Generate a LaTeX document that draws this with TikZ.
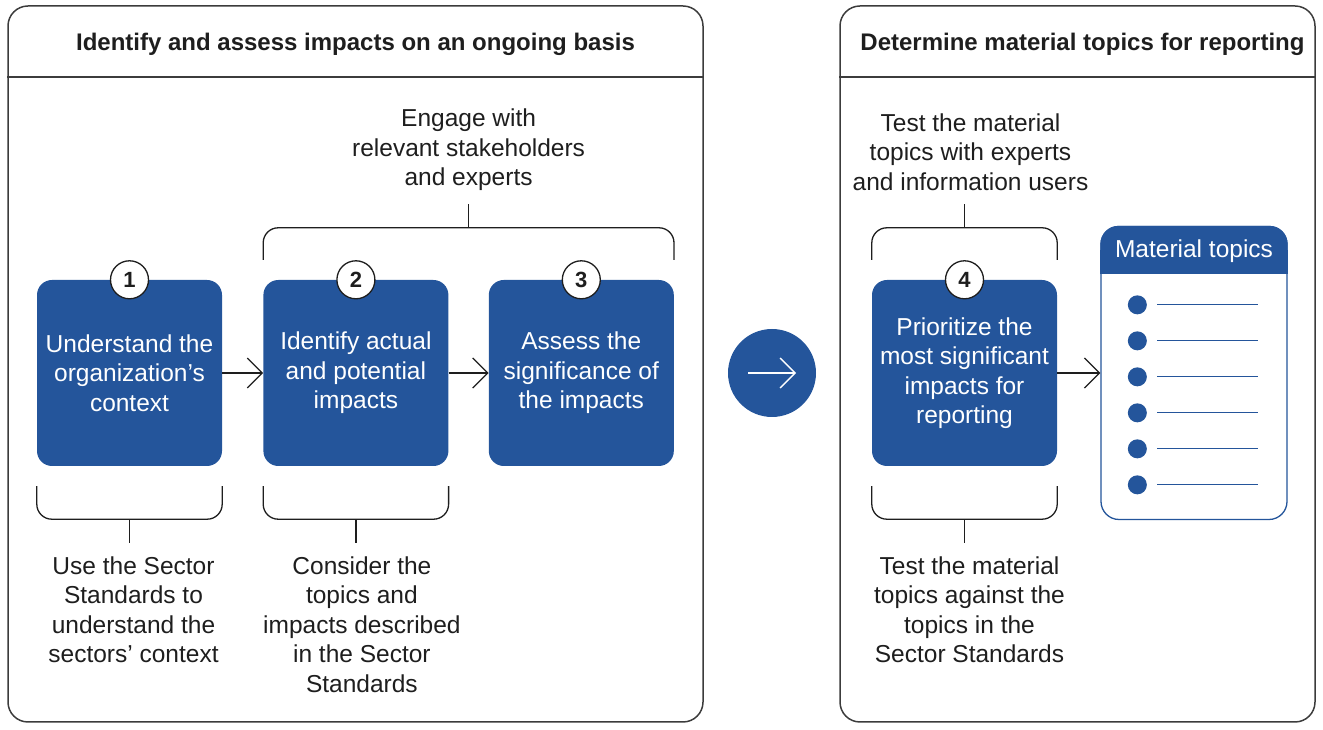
\documentclass[tikz,border=0pt]{standalone}
\usepackage{fontspec}
\setmainfont{Liberation Sans}
\usetikzlibrary{
  arrows.meta,
  calc,
  positioning
}
\definecolor{griblue}{RGB}{36,85,155}
\definecolor{inkgray}{RGB}{30,30,30}
\definecolor{framegray}{RGB}{60,60,60}

\begin{document}
\begin{tikzpicture}[x=1pt, y=1pt,
  stepbox/.style={fill=griblue, rounded corners=15pt, minimum width=185pt,
               minimum height=186pt, align=center, text=white, inner sep=0pt,
               font=\fontsize{24.5}{29.5}\selectfont},
  numcirc/.style={circle, draw=inkgray, line width=1.3pt, fill=white,
               minimum size=38pt, inner sep=0pt, text=inkgray,
               font=\fontsize{22}{22}\selectfont\bfseries},
  note/.style={align=center, text=inkgray, inner sep=13pt,
               font=\fontsize{24.5}{29.5}\selectfont},
  brace/.style={draw=inkgray, line width=1.3pt, rounded corners=15pt},
  stem/.style={draw=inkgray, line width=1.3pt},
  arr/.style={-{Straight Barb[length=15pt, width=30pt]}, line width=1.3pt, inkgray},
  panel/.style={draw=framegray, line width=1.5pt, rounded corners=20pt,
               inner sep=0pt, minimum height=716pt},
  title/.style={text=inkgray, font=\fontsize{24}{29}\selectfont\bfseries},
  node distance=40pt
]
  \useasboundingbox (0,0) rectangle (1323,730);

  % the two panels
  \node[panel, minimum width=695pt] (lp) at (355.5,366) {};
  \node[panel, minimum width=475pt] (rp) at (1077.5,366) {};
  \draw[framegray, line width=1.5pt] ($(lp.north west)+(0,-72)$) -- ($(lp.north east)+(0,-72)$);
  \draw[framegray, line width=1.5pt] ($(rp.north west)+(0,-72)$) -- ($(rp.north east)+(0,-72)$);
  \node[title] (lt) at ($(lp.north)+(0,-39)$) {Identify and assess impacts on an ongoing basis};
  \node[title] (rt) at ($(rp.north)+(5,-39)$) {Determine material topics for reporting};

  % steps
  \node[stepbox] (s1) at (129.5,357) {Understand the\\organization’s\\context};
  \node[stepbox, right=41pt of s1] (s2) {Identify actual\\and potential\\impacts};
  \node[stepbox, right=of s2] (s3) {Assess the\\significance of\\the impacts};
  \node[stepbox] (s4) at (964.5,357) {Prioritize the\\most significant\\impacts for\\reporting};

  \node[numcirc] (c1) at (s1.north) {1};
  \node[numcirc] (c2) at (s2.north) {2};
  \node[numcirc] (c3) at (s3.north) {3};
  \node[numcirc] (c4) at (s4.north) {4};

  \draw[arr] (s1) -- (s2);
  \draw[arr] (s2) -- (s3);

  % link between panels
  \node[circle, fill=griblue, minimum size=88pt, inner sep=0pt] (go) at (772,357) {};
  \coordinate (ga) at ($(go.center)+(-24,0)$);
  \coordinate (gb) at ($(go.center)+(24,0)$);
  \draw[arr, white] (ga) -- (gb);

  % brackets above
  \coordinate (tb23) at ($(s2.north west)!0.5!(s3.north east)+(0,52)$);
  \draw[brace] ([yshift=20pt]s2.north west) |- (tb23) -| ([yshift=20pt]s3.north east);
  \node[note, above=24pt of tb23] (eng) {Engage with\\relevant stakeholders\\and experts};
  \draw[stem] (tb23) -- (eng);

  \coordinate (tb4) at ($(s4.north)+(0,52)$);
  \draw[brace] ([yshift=20pt]s4.north west) |- (tb4) -| ([yshift=20pt]s4.north east);
  \node[note, above=24pt of tb4, xshift=6pt] (tst1) {Test the material\\topics with experts\\and information users};
  \draw[stem] (tb4) -- (tb4 |- tst1.south);

  % brackets below
  \coordinate (bb1) at ($(s1.south)+(0,-53)$);
  \draw[brace] ([yshift=-20pt]s1.south west) |- (bb1) -| ([yshift=-20pt]s1.south east);
  \node[note, below=24pt of bb1, xshift=4pt] (use) {Use the Sector\\Standards to\\understand the\\sectors’ context};
  \draw[stem] (bb1) -- (bb1 |- use.north);

  \coordinate (bb2) at ($(s2.south)+(0,-53)$);
  \draw[brace] ([yshift=-20pt]s2.south west) |- (bb2) -| ([yshift=-20pt]s2.south east);
  \node[note, below=24pt of bb2, xshift=6pt] (cons) {Consider the\\topics and\\impacts described\\in the Sector\\Standards};
  \draw[stem] (bb2) -- (bb2 |- cons.north);

  \coordinate (bb4) at ($(s4.south)+(0,-53)$);
  \draw[brace] ([yshift=-20pt]s4.south west) |- (bb4) -| ([yshift=-20pt]s4.south east);
  \node[note, below=24pt of bb4, xshift=5pt] (tst2) {Test the material\\topics against the\\topics in the\\Sector Standards};
  \draw[stem] (bb4) -- (bb4 |- tst2.north);

  % material topics list
  \node[draw=griblue, line width=1.3pt, fill=white, rounded corners=18pt,
        minimum width=186pt, minimum height=293pt] (mt) at (1194,357) {};
  \fill[griblue, rounded corners=18pt] (mt.north west) rectangle ($(mt.north east)+(0,-48)$);
  \fill[griblue] ($(mt.north west)+(0,-24)$) rectangle ($(mt.north east)+(0,-48)$);
  \node[text=white, font=\fontsize{24.5}{29}\selectfont] (mth) at ($(mt.north)+(0,-25)$) {Material topics};
  \foreach \i in {0,...,5} {
    \node[circle, fill=griblue, minimum size=19pt, inner sep=0pt] (b\i)
      at ($(mt.north west)+(37,-79-36*\i)$) {};
    \draw[griblue, line width=1.1pt] ($(b\i)+(20,0)$) -- ++(101,0);
  }

  \draw[arr] (s4) -- (mt);
\end{tikzpicture}
\end{document}
